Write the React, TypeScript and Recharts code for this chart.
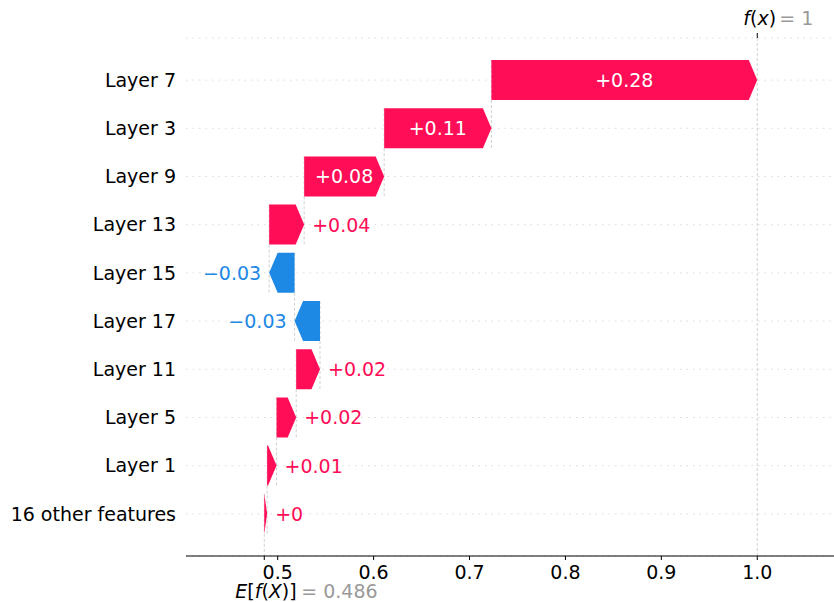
import { BarChart, Bar, XAxis, YAxis, CartesianGrid, ReferenceLine } from 'recharts'

// rows from top to bottom, as in the waterfall
const features = [
  'Layer 7',
  'Layer 3',
  'Layer 9',
  'Layer 13',
  'Layer 15',
  'Layer 17',
  'Layer 11',
  'Layer 5',
  'Layer 1',
  '16 other features',
]
const shapValues = [0.2772, 0.1118, 0.0834, 0.0365, -0.0265, -0.0265, 0.0248, 0.0205, 0.0098, 0.003]
const baseValue = 0.486
const xTicks = [0.5, 0.6, 0.7, 0.8, 0.9, 1.0]
const xDomain = [0.4044, 1.08]

const POS = '#ff0d57'
const NEG = '#1e88e5'
const FONT = 19
const W = 834
const H = 602
const MARGIN = { top: 38, right: 0, bottom: 16, left: 0 }
const X_AXIS_H = 30
const AXIS_Y = H - MARGIN.bottom - X_AXIS_H
const Y_PAD = 18
const BAND = (AXIS_Y - MARGIN.top - 2 * Y_PAD) / features.length
const BAR_H = 40
const HEAD = 8.5

function buildRows() {
  const rows: any[] = new Array(features.length)
  let cum = baseValue
  for (let i = features.length - 1; i >= 0; i--) {
    const start = cum
    const end = cum + shapValues[i]
    rows[i] = {
      name: features[i],
      value: shapValues[i],
      range: [Math.min(start, end), Math.max(start, end)],
      isLast: i === features.length - 1,
    }
    cum = end
  }
  return { rows, fx: cum }
}

const { rows, fx } = buildRows()

function fmt(v: number) {
  const r = Math.abs(Number(v.toFixed(2)))
  return (v < 0 ? '\u2212' : '+') + String(r)
}

function ArrowBar(props: any) {
  const { x, y, width, height, payload } = props
  const v = payload.value
  const hl = Math.min(HEAD, width)
  const cy = y + height / 2
  const pts =
    v >= 0
      ? [[x, y], [x + width - hl, y], [x + width, cy], [x + width - hl, y + height], [x, y + height]]
      : [[x + width, y], [x + hl, y], [x, cy], [x + hl, y + height], [x + width, y + height]]
  const startX = v >= 0 ? x : x + width
  const lineEnd = payload.isLast ? AXIS_Y : y + height + BAND
  const text = fmt(v)
  const textW = text.length * FONT * 0.62
  const inside = width > textW + 12
  const color = v >= 0 ? POS : NEG
  return (
    <g>
      <line x1={startX} x2={startX} y1={y} y2={lineEnd} stroke="#bbbbbb" strokeWidth={0.7} strokeDasharray="3 2" />
      <polygon points={pts.map((p) => p.join(',')).join(' ')} fill={color} />
      {inside ? (
        <text x={x + width / 2} y={cy} textAnchor="middle" dominantBaseline="central" fill="#fff" fontSize={FONT}>
          {text}
        </text>
      ) : (
        <text
          x={v >= 0 ? x + width + 8 : x - 8}
          y={cy}
          textAnchor={v >= 0 ? 'start' : 'end'}
          dominantBaseline="central"
          fill={color}
          fontSize={FONT}
        >
          {text}
        </text>
      )}
    </g>
  )
}

function XTick(props: any) {
  const { x, y, payload } = props
  if (payload.value === baseValue) {
    return (
      <text x={x - 29} y={y + 19} dy="0.71em" fontSize={FONT} fill="#000">
        <tspan fontStyle="italic">E</tspan>[<tspan fontStyle="italic">f</tspan>(<tspan fontStyle="italic">X</tspan>)]
        <tspan x={x + 37} fill="#999999">= {Number(baseValue.toFixed(3))}</tspan>
      </text>
    )
  }
  return (
    <text x={x} y={y} dy="0.71em" textAnchor="middle" fontSize={FONT} fill="#000">
      {payload.value.toFixed(1)}
    </text>
  )
}

function FxLabel(props: any) {
  const { x, y } = props.viewBox
  return (
    <g>
      <line x1={x} x2={x} y1={y - 5} y2={y} stroke="#000" strokeWidth={1} />
      <text x={x - 14} y={18} dominantBaseline="central" fontSize={FONT} fill="#000">
        <tspan fontStyle="italic">f</tspan>(<tspan fontStyle="italic">x</tspan>)
        <tspan x={x + 22} fill="#999999">= {Number(fx.toFixed(3))}</tspan>
      </text>
    </g>
  )
}

export default function App() {
  return (
    <div
      style={{
        position: 'absolute',
        left: 0,
        top: 0,
        width: W,
        height: H,
        background: '#fff',
        fontFamily: '"DejaVu Sans", sans-serif',
      }}
    >
      <BarChart width={W} height={H} data={rows} layout="vertical" margin={MARGIN} barSize={BAR_H}>
        <CartesianGrid vertical={false} stroke="#cccccc" strokeWidth={0.7} strokeDasharray="1.5 5" />
        <XAxis
          type="number"
          domain={xDomain}
          ticks={[baseValue, ...xTicks]}
          allowDataOverflow
          height={X_AXIS_H}
          axisLine={{ stroke: '#000', strokeWidth: 1 }}
          tickLine={{ stroke: '#000', strokeWidth: 1 }}
          tickSize={4}
          tickMargin={6}
          tick={<XTick />}
          interval={0}
        />
        <YAxis
          type="category"
          dataKey="name"
          width={186}
          axisLine={false}
          tickLine={false}
          tickSize={0}
          tickMargin={10}
          padding={{ top: Y_PAD, bottom: Y_PAD }}
          tick={{ fill: '#000', fontSize: FONT }}
          interval={0}
        />
        <ReferenceLine
          x={fx}
          stroke="#bbbbbb"
          strokeWidth={0.7}
          strokeDasharray="3 2"
          label={(p: any) => <FxLabel {...p} />}
        />
        <Bar dataKey="range" shape={<ArrowBar />} isAnimationActive={false} />
      </BarChart>
    </div>
  )
}
